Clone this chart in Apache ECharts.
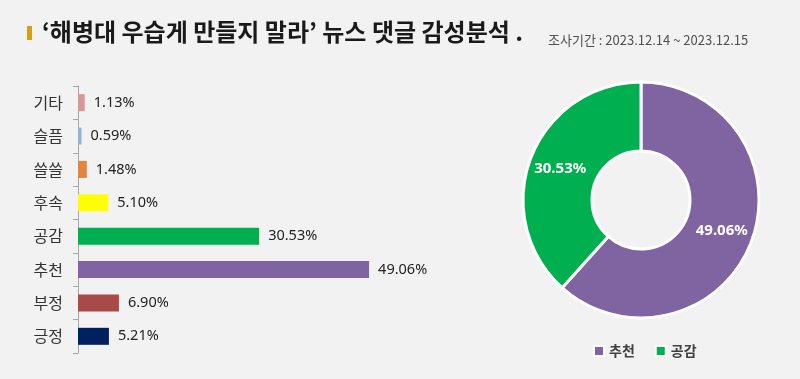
<!DOCTYPE html>
<html><head><meta charset="utf-8">
<script src="https://cdn.jsdelivr.net/npm/echarts@6/dist/echarts.min.js"></script>
<style>html,body{margin:0;padding:0;background:#f2f2f2}#c{width:800px;height:379px}</style>
</head><body><div id="c"></div>
<script>
const categories = ['기타','슬픔','쓸쓸','후속','공감','추천','부정','긍정'];
const barValues = [1.13, 0.59, 1.48, 5.10, 30.53, 49.06, 6.90, 5.21];
const barColors = ['#d99694','#95b3d7','#e0873d','#ffff00','#00b050','#8064a2','#a94a48','#002060'];
const pieNames = ['추천','공감'];
const pieValues = [49.06, 30.53];
const pieColors = ['#8064a2','#00b050'];
const titleText = '‘해병대 우습게 만들지 말라’ 뉴스 댓글 감성분석 .';
const subtitleText = '조사기간 : 2023.12.14 ~ 2023.12.15';

const chart = echarts.init(document.getElementById('c'));
const font = '"Noto Sans CJK KR", "Noto Sans", sans-serif';
chart.setOption({
  backgroundColor: '#f2f2f2',
  textStyle: {fontFamily: font},
  title: [
    {text: titleText, left: 37, top: 15, textStyle: {fontSize: 24, fontWeight: 'bold', color: '#1a1a1a', fontFamily: font}},
    {text: subtitleText, left: 543, top: 29, textStyle: {fontSize: 13, fontWeight: 'normal', color: '#505050', fontFamily: font}}
  ],
  graphic: [{type: 'rect', shape: {x: 27, y: 26, width: 5, height: 14}, style: {fill: '#d4a017'}}],
  grid: {left: 78, top: 86, width: 356, height: 267},
  xAxis: {type: 'value', min: 0, max: 60, show: false},
  yAxis: {
    type: 'category', data: categories, inverse: true,
    axisLine: {lineStyle: {color: '#a6a6a6'}},
    axisTick: {show: true, length: 5, lineStyle: {color: '#a6a6a6'}},
    axisLabel: {color: '#333', fontSize: 16, margin: 15, fontFamily: font}
  },
  legend: {
    data: pieNames, left: 588, top: 339, itemWidth: 10, itemHeight: 10, itemGap: 20,
    icon: 'rect',
    textStyle: {color: '#404040', fontSize: 14, fontWeight: 'bold', fontFamily: font}
  },
  series: [
    {
      type: 'bar', barWidth: 17,
      data: barValues.map((v, i) => ({value: v, itemStyle: {color: barColors[i]}})),
      label: {show: true, position: 'right', distance: 9, color: '#222', fontSize: 14.5, fontFamily: '"Noto Sans", sans-serif',
        formatter: p => p.value.toFixed(2) + '%'}
    },
    {
      type: 'pie', center: [641, 200], radius: [49, 118], startAngle: 90, clockwise: true,
      data: pieNames.map((n, i) => ({name: n, value: pieValues[i], itemStyle: {color: pieColors[i]}})),
      itemStyle: {borderColor: '#ffffff', borderWidth: 3},
      label: {show: true, position: 'inside', color: '#fff', fontSize: 15, fontWeight: 'bold', fontFamily: '"Noto Sans", sans-serif',
        formatter: p => p.value.toFixed(2) + '%'},
      labelLine: {show: false}, emphasis: {disabled: true}
    }
  ]
});
</script></body></html>
